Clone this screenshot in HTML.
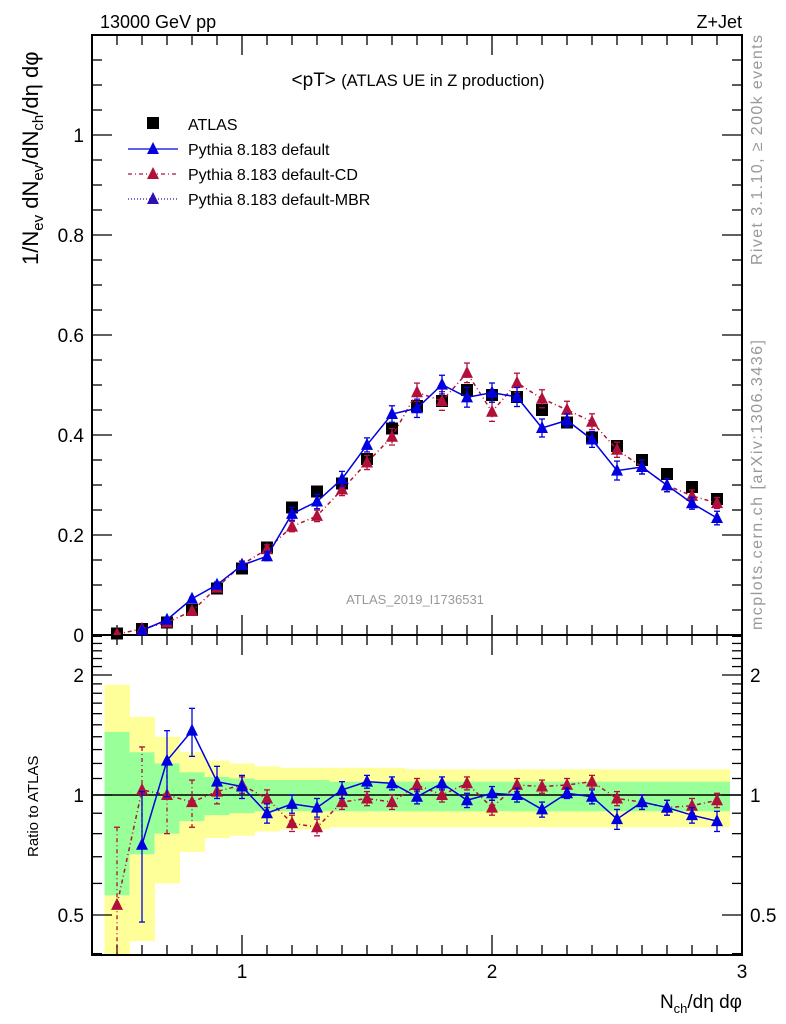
<!DOCTYPE html>
<html><head><meta charset="utf-8"><style>
body{margin:0;background:#fff;}
svg{display:block;font-family:"Liberation Sans",sans-serif;}
</style></head><body>
<svg id="c" width="786" height="1024" xmlns="http://www.w3.org/2000/svg">
<text x="100" y="28" font-size="18">13000 GeV pp</text>
<text x="742" y="28" font-size="18" text-anchor="end">Z+Jet</text>
<text x="418" y="86" font-size="19" text-anchor="middle">&lt;pT&gt; <tspan font-size="16.5">(ATLAS UE in Z production)</tspan></text>
<text x="415" y="604" font-size="13" fill="#999" text-anchor="middle">ATLAS_2019_I1736531</text>
<text transform="translate(762,265) rotate(-90)" font-size="16" fill="#999" textLength="230">Rivet 3.1.10, ≥ 200k events</text>
<text transform="translate(762,630) rotate(-90)" font-size="16" fill="#999" textLength="290">mcplots.cern.ch [arXiv:1306.3436]</text>
<text transform="translate(38,265) rotate(-90)" font-size="22">1/N<tspan font-size="15" dy="5">ev</tspan><tspan dy="-5"> dN</tspan><tspan font-size="15" dy="5">ev</tspan><tspan dy="-5">/dN</tspan><tspan font-size="15" dy="5">ch</tspan><tspan dy="-5">/dη dφ</tspan></text>
<text transform="translate(38,857) rotate(-90)" font-size="15">Ratio to ATLAS</text>
<text x="742" y="1008" font-size="19" text-anchor="end">N<tspan font-size="13" dy="5">ch</tspan><tspan dy="-5">/dη dφ</tspan></text>
<g id="g"></g>
</svg>
<script>
const xs=[0.5,0.6,0.7,0.8,0.9,1.0,1.1,1.2,1.3,1.4,1.5,1.6,1.7,1.8,1.9,2.0,2.1,2.2,2.3,2.4,2.5,2.6,2.7,2.8,2.9];
const atlas=[0.003,0.012,0.025,0.05,0.093,0.133,0.175,0.255,0.287,0.303,0.352,0.413,0.458,0.468,0.49,0.48,0.476,0.45,0.425,0.395,0.378,0.35,0.322,0.296,0.272];
const defRatio=[null,0.75,1.22,1.45,1.08,1.05,0.9,0.95,0.93,1.03,1.08,1.07,0.99,1.07,0.97,1.01,1.0,0.92,1.01,0.99,0.87,0.96,0.93,0.89,0.86];
const defErr=[0,0.27,0.23,0.2,0.1,0.07,0.05,0.05,0.05,0.05,0.04,0.04,0.04,0.04,0.04,0.04,0.04,0.04,0.03,0.04,0.05,0.04,0.04,0.04,0.05];
const cdRatio=[0.53,1.03,1.0,0.96,1.02,1.06,0.98,0.85,0.83,0.96,0.98,0.96,1.06,1.0,1.07,0.93,1.06,1.05,1.06,1.08,0.98,0.96,0.93,0.94,0.97];
const cdErr=[0.3,0.29,0.2,0.13,0.07,0.05,0.05,0.04,0.04,0.04,0.04,0.04,0.04,0.04,0.04,0.04,0.04,0.04,0.04,0.04,0.04,0.04,0.04,0.04,0.04];
const yelHi=[1.89,1.57,1.40,1.28,1.22,1.20,1.18,1.17,1.17,1.17,1.17,1.17,1.16,1.16,1.16,1.16,1.16,1.16,1.16,1.16,1.16,1.16,1.16,1.16,1.16];
const yelLo=[0.3,0.43,0.60,0.72,0.78,0.79,0.81,0.82,0.82,0.83,0.83,0.83,0.83,0.83,0.83,0.83,0.83,0.83,0.83,0.83,0.83,0.83,0.83,0.83,0.83];
const grnHi=[1.44,1.28,1.20,1.14,1.11,1.10,1.09,1.09,1.09,1.08,1.08,1.08,1.08,1.08,1.08,1.08,1.08,1.08,1.08,1.08,1.08,1.08,1.08,1.08,1.08];
const grnLo=[0.56,0.71,0.80,0.86,0.89,0.90,0.91,0.91,0.91,0.91,0.91,0.91,0.91,0.91,0.91,0.91,0.91,0.91,0.91,0.91,0.91,0.91,0.91,0.91,0.91];
const mainTicks=[0,0.2,0.4,0.6,0.8,1];
const mainTickLabels=["0","0.2","0.4","0.6","0.8","1"];
const xTicks=[1,2,3];
const ratioTicks=[0.5,1,2];
const ratioTickLabels=["0.5","1","2"];

const NS="http://www.w3.org/2000/svg",G=document.getElementById('g');
const L=92,R=742,T=35,MB=635,RB=955;
const X=v=>L+(v-0.4)/2.6*(R-L);
const Y=v=>MB-v/1.2*(MB-T);
const RY=v=>795-Math.log10(Math.max(v,0.3))*398.6;
function el(t,a,p){const e=document.createElementNS(NS,t);for(const k in a)e.setAttribute(k,a[k]);(p||G).appendChild(e);return e;}
const bands=el('g',{});


const clip=el('clipPath',{id:'rc'});el('rect',{x:L,y:MB,width:R-L,height:RB-MB},clip);
bands.setAttribute('clip-path','url(#rc)');
xs.forEach((x,i)=>{
 const x0=X(x-0.05),w=X(x+0.05)-x0+0.5;
 const y=el('rect',{x:x0,y:RY(yelHi[i]),width:w,height:RY(yelLo[i])-RY(yelHi[i]),fill:'#ffff99'},bands);
 
 
 const g=el('rect',{x:x0,y:RY(grnHi[i]),width:w,height:RY(grnLo[i])-RY(grnHi[i]),fill:'#99ff99'},bands);
 
 
});
el('line',{x1:L,x2:R,y1:RY(1),y2:RY(1),stroke:'#000','stroke-width':1.5});
const f1=el('rect',{x:L,y:T,width:R-L,height:MB-T,fill:'none',stroke:'#000','stroke-width':2});


const f2=el('rect',{x:L,y:MB,width:R-L,height:RB-MB,fill:'none',stroke:'#000','stroke-width':2});


for(let k=5;k<=30;k++){const v=k/10,px=X(v),maj=k%10==0,len=maj?20:10;
 [[MB,-1],[T,1],[RB,-1],[MB,1]].forEach(([y0,d])=>el('line',{x1:px,x2:px,y1:y0,y2:y0+d*len,stroke:'#000','stroke-width':1.3}));}
xTicks.forEach(v=>{const t=el('text',{x:X(v),y:978,'font-size':19,'text-anchor':'middle'});t.textContent=v;
 
 });
for(let k=0;k<=23;k++){const v=k*0.05,py=Y(v),len=k%4==0?20:10;
 el('line',{x1:L,x2:L+len,y1:py,y2:py,stroke:'#000','stroke-width':1.3});
 el('line',{x1:R,x2:R-len,y1:py,y2:py,stroke:'#000','stroke-width':1.3});}
mainTicks.forEach((v,i)=>{const t=el('text',{x:84,y:Y(v)+7,'font-size':19,'text-anchor':'end'});t.textContent=mainTickLabels[i];
 
 });
const rt=[0.4,0.5,0.6,0.7,0.8,0.9,1,1.1,1.2,1.3,1.4,1.5,1.6,1.7,1.8,1.9,2,2.1,2.2,2.3,2.4,2.5];
rt.forEach(v=>{const py=RY(v),len=ratioTicks.includes(v)?20:10;
 el('line',{x1:L,x2:L+len,y1:py,y2:py,stroke:'#000','stroke-width':1.3});
 el('line',{x1:R,x2:R-len,y1:py,y2:py,stroke:'#000','stroke-width':1.3});});
ratioTicks.forEach((v,i)=>{[[84,'end'],[750,'start']].forEach(([x,a])=>{
 const t=el('text',{x:x,y:RY(v)+7,'font-size':19,'text-anchor':a});t.textContent=ratioTickLabels[i];
 
 });});
function tri(g,x,y,c){el('polygon',{points:`${x},${y-7} ${x-6},${y+5} ${x+6},${y+5}`,fill:c},g);}
function series(name,ratio,err,c,dash,ymap,vals,errs,clipId){
 const g=el('g',{});
 
 
 if(clipId)g.setAttribute('clip-path','url(#'+clipId+')');
 let pts=[];
 xs.forEach((x,i)=>{if(vals[i]==null)return;const px=X(x),py=ymap(vals[i]);pts.push(px+','+py);
  const hi=ymap(vals[i]+errs[i]),lo=ymap(Math.max(vals[i]-errs[i],0.001));
  el('line',{x1:px,x2:px,y1:hi,y2:lo,stroke:c,'stroke-width':1.3,'stroke-dasharray':dash},g);
  el('line',{x1:px-3,x2:px+3,y1:hi,y2:hi,stroke:c,'stroke-width':1.3},g);
  el('line',{x1:px-3,x2:px+3,y1:lo,y2:lo,stroke:c,'stroke-width':1.3},g);});
 el('polyline',{points:pts.join(' '),fill:'none',stroke:c,'stroke-width':1.5,'stroke-dasharray':dash},g);
 xs.forEach((x,i)=>{if(vals[i]!=null)tri(g,X(x),ymap(vals[i]),c);});
}
const clip2=el('clipPath',{id:'mc'});el('rect',{x:L,y:T,width:R-L,height:MB-T},clip2);
const dg=el('g',{});


xs.forEach((x,i)=>el('rect',{x:X(x)-6,y:Y(atlas[i])-6,width:12,height:12,fill:'#000'},dg));
const cdMain=cdRatio.map((r,i)=>r*atlas[i]),cdMErr=cdErr.map((e,i)=>Math.min(e,0.06)*atlas[i]);
const dfMain=defRatio.map((r,i)=>r==null?null:r*atlas[i]),dfMErr=defErr.map((e,i)=>Math.min(e,0.06)*atlas[i]);
series('default-cd-main',cdRatio,cdErr,'#b0103a','4,3,1,3',Y,cdMain,cdMErr,'mc');
series('default-main',defRatio,defErr,'#0000e0','',Y,dfMain,dfMErr,'mc');
series('default-cd-ratio',cdRatio,cdErr,'#b0103a','4,3,1,3',RY,cdRatio,cdErr,'rc');
series('default-ratio',defRatio,defErr,'#0000e0','',RY,defRatio,defErr,'rc');
const lg=el('g',{});


el('rect',{x:147,y:117,width:12,height:12,fill:'#000'},lg);
[['ATLAS',124],['Pythia 8.183 default',149],['Pythia 8.183 default-CD',174],['Pythia 8.183 default-MBR',199]].forEach(([s,y],i)=>{
 const t=el('text',{x:188,y:y+6,'font-size':16},lg);t.textContent=s;
 
 
 if(i>0){const c=i==1?'#0000e0':i==2?'#b0103a':'#3010b0';
  el('line',{x1:128,x2:178,y1:y,y2:y,stroke:c,'stroke-width':1.3,'stroke-dasharray':i==1?'':i==2?'4,3,1,3':'1,2'},lg);tri(lg,153,y,c);}
});
</script>
</body></html>
